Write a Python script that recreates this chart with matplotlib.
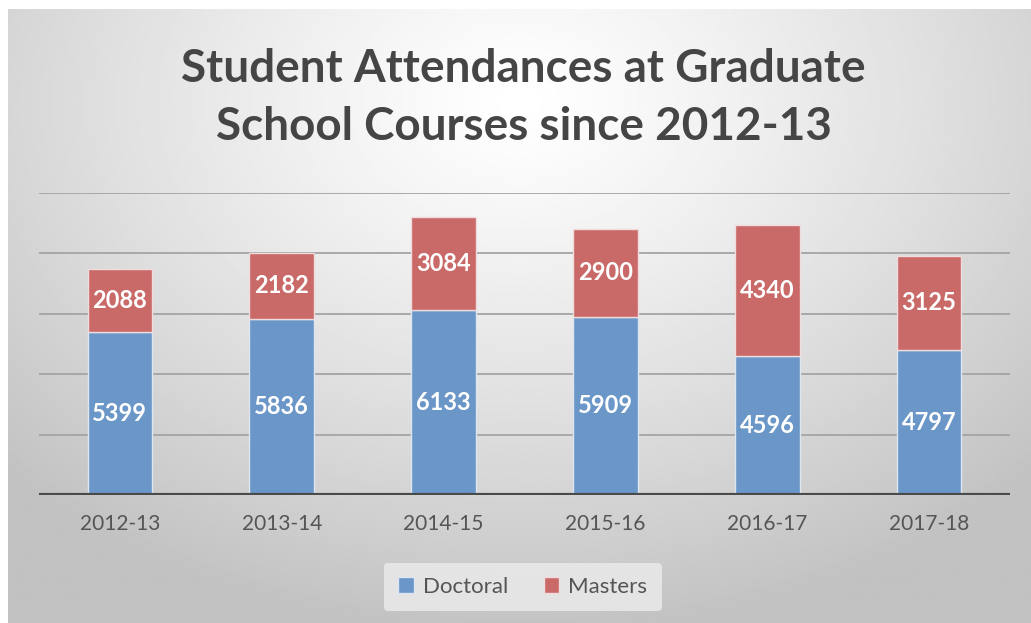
import numpy as np
import matplotlib.pyplot as plt

years = ['2012-13', '2013-14', '2014-15', '2015-16', '2016-17', '2017-18']
doctoral = [5399, 5836, 6133, 5909, 4596, 4797]
masters = [2088, 2182, 3084, 2900, 4340, 3125]
grid_levels = [2000, 4000, 6000, 8000, 10000]

plt.rcParams['font.family'] = ['Lato', 'DejaVu Sans']

fig = plt.figure(figsize=(10.31, 6.23), dpi=100)
fig.patch.set_facecolor('white')

# radial gradient background
bg = fig.add_axes([8 / 1031, 0, 1 - 8 / 1031, 1 - 9 / 623])
bg.axis('off')
yy, xx = np.mgrid[0:1:300j, 0:1:500j]
r = np.sqrt(((xx - 0.5) * 1.0) ** 2 + ((yy - 0.15) * 0.8) ** 2)
shade = 1.0 - 0.24 * np.clip(r / 0.7, 0, 1) ** 1.2
bg.imshow(shade, cmap='gray', vmin=0, vmax=1, aspect='auto', extent=[0, 1, 1, 0])

ax = fig.add_axes([39 / 1031, 1 - 495 / 623, (1010 - 39) / 1031, (495 - 193) / 623])
ax.patch.set_alpha(0)
x = np.arange(len(years))
ax.set_xlim(-0.5, len(years) - 0.5)
ax.set_ylim(0, 10000)

for g in grid_levels:
    ax.axhline(g, color='#a4a4a4', lw=1.3, zorder=1)

b1 = ax.bar(x, doctoral, width=0.4, color='#6a96c8', edgecolor='#dde6f0', lw=1, zorder=3, label='Doctoral')
b2 = ax.bar(x, masters, width=0.4, bottom=doctoral, color='#c96a68', edgecolor='#f0dcdc', lw=1, zorder=3, label='Masters')

for i in range(len(years)):
    ax.text(x[i], doctoral[i] / 2, str(doctoral[i]), ha='center', va='center',
            color='white', fontsize=17, fontweight='bold', zorder=4)
    ax.text(x[i], doctoral[i] + masters[i] / 2, str(masters[i]), ha='center', va='center',
            color='white', fontsize=17, fontweight='bold', zorder=4)

ax.axhline(0, color='#4a4a4a', lw=3, zorder=5)
for s in ax.spines.values():
    s.set_visible(False)
ax.set_yticks([])
ax.set_xticks(x)
ax.set_xticklabels(years, fontsize=15, color='#555555')
ax.tick_params(axis='x', length=0, pad=14)

fig.text(0.508, 1 - 98 / 623, 'Student Attendances at Graduate\nSchool Courses since 2012-13',
         ha='center', va='center', fontsize=33, fontweight='bold', color='#454545', linespacing=1.5)

leg = fig.legend(handles=[b1, b2], loc='center', bbox_to_anchor=(0.507, 1 - 587 / 623), ncol=2,
                 frameon=True, fontsize=16, handlelength=0.7, handleheight=0.7,
                 handletextpad=0.4, columnspacing=1.6, borderpad=0.65, borderaxespad=0)
leg.get_frame().set_facecolor('#e8e8e8')
leg.get_frame().set_edgecolor('none')
leg.get_frame().set_alpha(0.9)
for t in leg.get_texts():
    t.set_color('#555555')

fig.savefig('out.png', dpi=100)
